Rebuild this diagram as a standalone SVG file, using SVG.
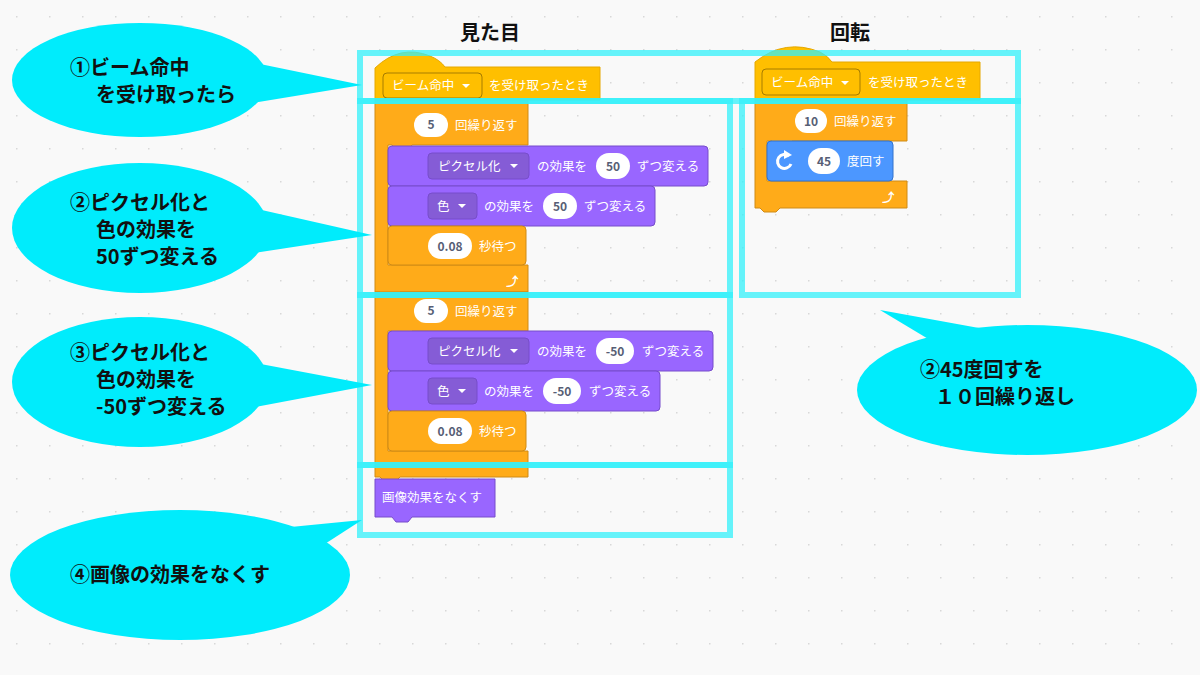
<svg xmlns="http://www.w3.org/2000/svg" width="1200" height="675" viewBox="0 0 1200 675">
<defs>
<pattern id="dots" x="0" y="0" width="33" height="33" patternUnits="userSpaceOnUse"><rect x="16" y="16" width="1.5" height="1.5" fill="#d8d8d8"/></pattern>
<style>
text{font-family:"Noto Sans CJK JP","Noto Sans",sans-serif}
.ev{fill:#ffbf00;stroke:#e6a800}
.ctl{fill:#ffab19;stroke:#cf8b17}
.lk{fill:#9966ff;stroke:#774dcb}
.mo{fill:#4c97ff;stroke:#3373cc}
.dd{fill:none;stroke-opacity:.35;stroke:#000}
.ddl{fill:#855cd6;stroke:#774dcb}
.w{fill:#fff;font-size:12.5px}
.n{fill:#575e75;font-size:12px;font-weight:bold;text-anchor:middle}
.pill{fill:#fff}
.fr{fill:none;stroke:#33f0fa;stroke-opacity:.75;stroke-width:6}
.bub{fill:#00ecfc}
.bt{font-size:20px;font-weight:bold;fill:#111}
.h{font-size:20px;font-weight:bold;fill:#111;text-anchor:middle}
</style>
</defs>
<rect width="1200" height="675" fill="#f9f9f9"/>
<rect width="1200" height="675" fill="url(#dots)"/>
<text class="h" x="490" y="40">見た目</text>
<text class="h" x="850" y="40">回転</text>

<g id="script1">
<path class="ctl" d="M375,100 H528 V145 H412 l-4,5 h-12 l-4,-5 H388 V265 H528 V292 H400 l-4,4 h-12 l-4,-4 H375 Z"/>
<path class="ev" d="M375,68 Q400,44 430,56 Q440,60 445,67 H600 V100 H375 Z"/>
<rect class="dd" x="383" y="73" width="99" height="25" rx="4" fill="#ffbf00"/>
<text class="w" x="392" y="90">ビーム命中</text><path d="M462,84 l4,4 l4,-4z" fill="#fff"/>
<text class="w" x="489" y="90">を受け取ったとき</text>
<rect class="pill" x="414" y="113" width="34" height="24" rx="12"/><text class="n" x="431" y="129">5</text>
<text class="w" x="455" y="130">回繰り返す</text>
<rect class="lk" x="388" y="146" width="320" height="40" rx="4"/>
<rect class="ddl" x="428" y="153" width="101" height="26" rx="4"/><text class="w" x="438" y="171">ピクセル化</text><path d="M510,164 l4,4 l4,-4z" fill="#fff"/>
<text class="w" x="537" y="171">の効果を</text>
<rect class="pill" x="596" y="153" width="34" height="26" rx="13"/><text class="n" x="613" y="171">50</text>
<text class="w" x="637" y="171">ずつ変える</text>
<rect class="lk" x="388" y="186" width="267" height="40" rx="4"/>
<rect class="ddl" x="428" y="193" width="49" height="26" rx="4"/><text class="w" x="437" y="211">色</text><path d="M458,204 l4,4 l4,-4z" fill="#fff"/>
<text class="w" x="484" y="211">の効果を</text>
<rect class="pill" x="543" y="193" width="34" height="26" rx="13"/><text class="n" x="560" y="211">50</text>
<text class="w" x="584" y="211">ずつ変える</text>
<rect class="ctl" x="388" y="226" width="138" height="39" rx="4"/>
<rect class="pill" x="428" y="233" width="44" height="26" rx="13"/><text class="n" x="450" y="251">0.08</text>
<text class="w" x="479" y="251">秒待つ</text>
<text class="w" x="506" y="286" font-size="15" font-weight="bold">⤴</text>

<path class="ctl" d="M375,292 H528 V331 H412 l-4,5 h-12 l-4,-5 H388 V451 H528 V477 H400 l-4,4 h-12 l-4,-4 H375 Z"/>
<rect class="pill" x="414" y="299" width="34" height="24" rx="12"/><text class="n" x="431" y="315">5</text>
<text class="w" x="455" y="316">回繰り返す</text>
<rect class="lk" x="388" y="331" width="325" height="40" rx="4"/>
<rect class="ddl" x="428" y="338" width="101" height="26" rx="4"/><text class="w" x="438" y="356">ピクセル化</text><path d="M510,349 l4,4 l4,-4z" fill="#fff"/>
<text class="w" x="537" y="356">の効果を</text>
<rect class="pill" x="596" y="338" width="38" height="26" rx="13"/><text class="n" x="615" y="356">-50</text>
<text class="w" x="642" y="356">ずつ変える</text>
<rect class="lk" x="388" y="371" width="272" height="40" rx="4"/>
<rect class="ddl" x="428" y="378" width="49" height="26" rx="4"/><text class="w" x="437" y="396">色</text><path d="M458,389 l4,4 l4,-4z" fill="#fff"/>
<text class="w" x="484" y="396">の効果を</text>
<rect class="pill" x="543" y="378" width="38" height="26" rx="13"/><text class="n" x="562" y="396">-50</text>
<text class="w" x="589" y="396">ずつ変える</text>
<rect class="ctl" x="388" y="411" width="138" height="40" rx="4"/>
<rect class="pill" x="428" y="418" width="44" height="26" rx="13"/><text class="n" x="450" y="436">0.08</text>
<text class="w" x="479" y="436">秒待つ</text>
<path class="lk" d="M375,479 H495 V517 H412 l-4,5 h-12 l-4,-5 H375 Z"/>
<text class="w" x="382" y="502">画像効果をなくす</text>
</g>

<g id="script2">
<path class="ctl" d="M755,100 H907 V141 H792 l-4,5 h-12 l-4,-5 H767 V181 H907 V208 H780 l-4,4 h-12 l-4,-4 H755 Z"/>
<path class="ev" d="M755,62 Q785,38 820,52 Q828,56 832,62 H980 V100 H755 Z"/>
<rect class="dd" x="762" y="69" width="98" height="26" rx="4" fill="#ffbf00"/>
<text class="w" x="771" y="87">ビーム命中</text><path d="M841,81 l4,4 l4,-4z" fill="#fff"/>
<text class="w" x="868" y="87">を受け取ったとき</text>
<rect class="pill" x="795" y="109" width="32" height="24" rx="12"/><text class="n" x="811" y="126">10</text>
<text class="w" x="834" y="126">回繰り返す</text>
<rect class="mo" x="767" y="141" width="126" height="40" rx="4"/>
<path d="M789,156 a7,7 0 1 0 2,8" fill="none" stroke="#fff" stroke-width="3"/><path d="M784,150 l8,5 l-8,4z" fill="#fff"/>
<rect class="pill" x="808" y="148" width="32" height="26" rx="13"/><text class="n" x="824" y="166">45</text>
<text class="w" x="847" y="166">度回す</text>
<text class="w" x="882" y="202" font-size="15" font-weight="bold">⤴</text>
</g>

<g id="frames">
<rect class="fr" x="360" y="53" width="658" height="48"/>
<rect class="fr" x="360" y="101" width="370" height="194"/>
<rect class="fr" x="742" y="101" width="276" height="194"/>
<rect class="fr" x="360" y="295" width="370" height="170"/>
<rect class="fr" x="360" y="465" width="370" height="70"/>
</g>

<g id="callout1"><path class="bub" d="M240,60 L362,85 L240,105Z"/><ellipse class="bub" cx="140" cy="80" rx="128" ry="57"/>
<text class="bt" x="70" y="75">①ビーム命中</text><text class="bt" x="96" y="102">を受け取ったら</text></g>
<g id="callout2"><path class="bub" d="M240,205 L372,235 L240,255Z"/><ellipse class="bub" cx="140" cy="228" rx="128" ry="65"/>
<text class="bt" x="70" y="210">②ピクセル化と</text><text class="bt" x="96" y="237">色の効果を</text><text class="bt" x="96" y="264">50ずつ変える</text></g>
<g id="callout3"><path class="bub" d="M240,360 L372,385 L240,410Z"/><ellipse class="bub" cx="140" cy="382" rx="128" ry="65"/>
<text class="bt" x="70" y="360">③ピクセル化と</text><text class="bt" x="96" y="387">色の効果を</text><text class="bt" x="96" y="414">-50ずつ変える</text></g>
<g id="callout4"><path class="bub" d="M260,530 L362,520 L300,560Z"/><ellipse class="bub" cx="180" cy="575" rx="170" ry="65"/>
<text class="bt" x="70" y="582">④画像の効果をなくす</text></g>
<g id="callout5"><path class="bub" d="M930,340 L880,310 L990,330Z"/><ellipse class="bub" cx="1027" cy="390" rx="170" ry="65"/>
<text class="bt" x="920" y="377">②45度回すを</text><text class="bt" x="935" y="404">１０回繰り返し</text></g>
</svg>
